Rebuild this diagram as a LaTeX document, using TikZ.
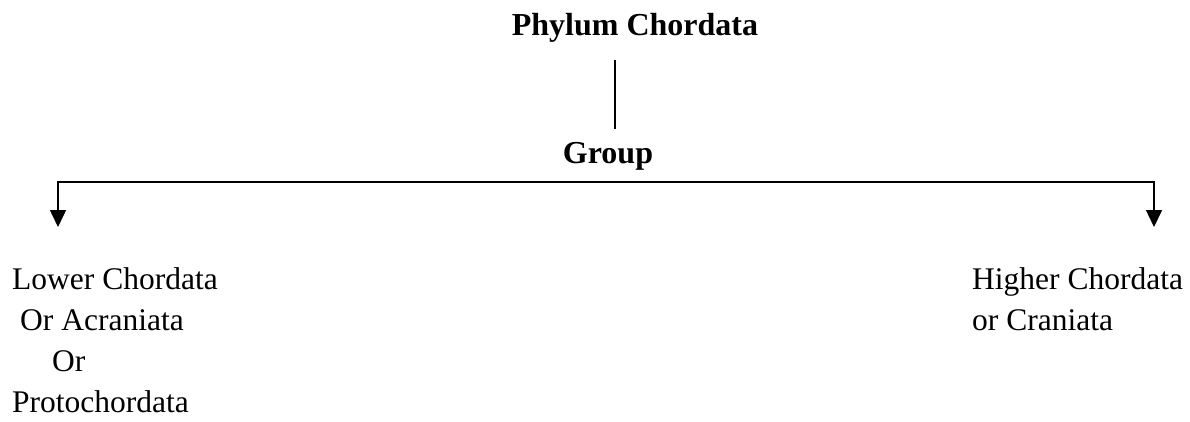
\documentclass[tikz,border=0pt]{standalone}
\usepackage{fontspec}
\setmainfont{Liberation Serif}
\usepackage{tikz}
\usetikzlibrary{arrows.meta,positioning,calc}
\definecolor{ink}{HTML}{000000}
\tikzset{
  title/.style={font=\fontsize{32}{39}\selectfont\bfseries, text=ink, inner sep=0pt},
  taxon/.style={font=\fontsize{31.5}{41}\selectfont, text=ink, align=left, inner sep=0pt, anchor=north west},
  link/.style={draw=ink, line width=1.3pt},
  branch/.style={{Triangle[length=17pt,width=16pt]}-{Triangle[length=17pt,width=16pt]}, draw=ink, line width=1.5pt}
}
\begin{document}
\begin{tikzpicture}[x=1pt, y=-1pt]
 \useasboundingbox (0,0) rectangle (1190,421);
 \node[title, anchor=base] (phylum) at (635,35) {Phylum Chordata};
 \node[title, anchor=base] (group) at (608,163) {Group};
 \node[taxon] (lower) at (12,267) {Lower Chordata\\\hspace{8pt}Or Acraniata\\\hspace{40pt}Or\\Protochordata};
 \node[taxon] (higher) at (972,267) {Higher Chordata\\or Craniata};
 \coordinate (stem) at (615,0);
 \coordinate (bar-l) at (58,182);
 \coordinate (bar-r) at (1154,182);
 \coordinate (tip-l) at (58,227);
 \coordinate (tip-r) at (1154,227);
 \draw[link] (phylum.south -| stem) ++(0,18) -- ($(group.north -| stem)+(0,-13)$);
 \draw[branch] (tip-l) -- (bar-l) -- (bar-r) -- (tip-r);
\end{tikzpicture}
\end{document}
